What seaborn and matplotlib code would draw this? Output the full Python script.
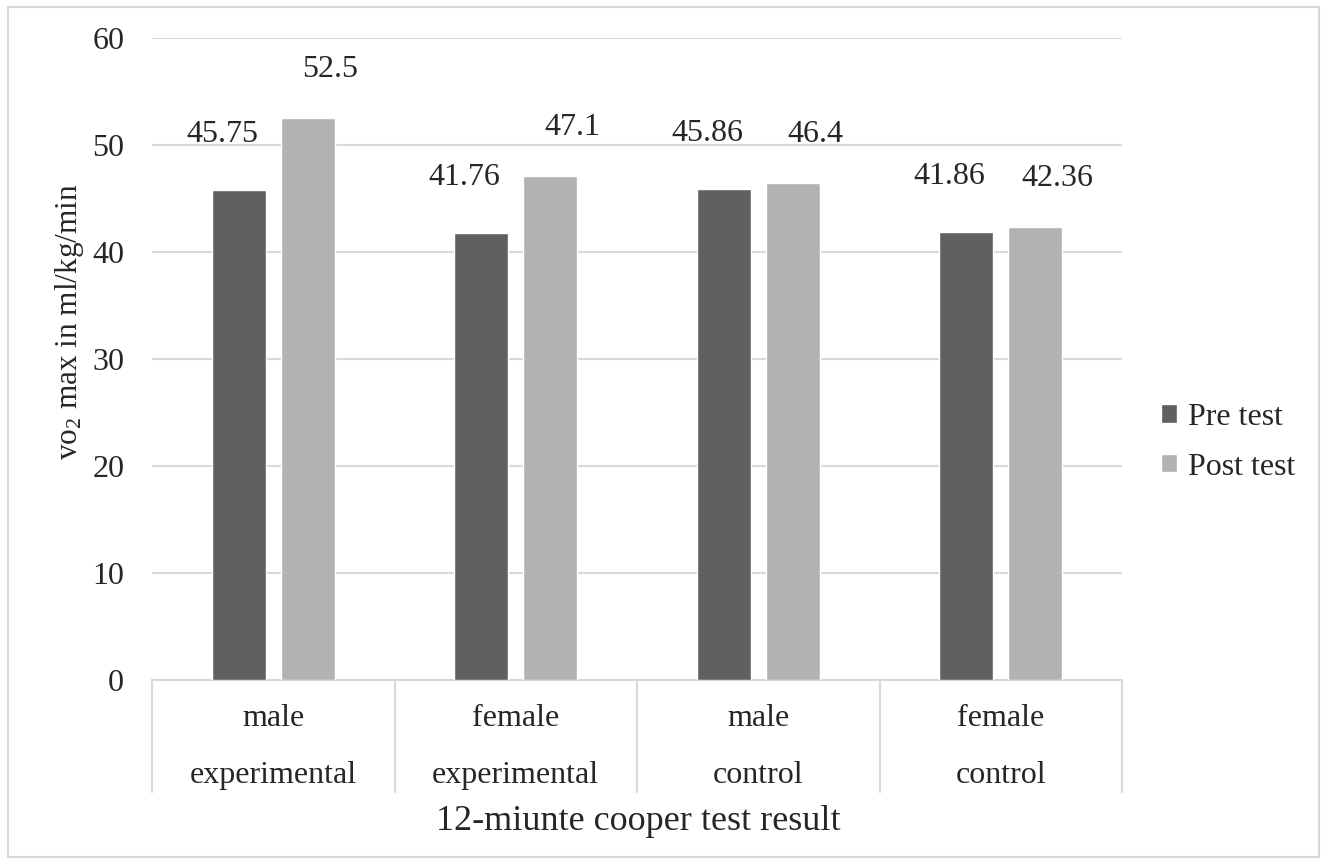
import seaborn as sns
import matplotlib.pyplot as plt
import matplotlib.transforms as mtransforms
from matplotlib.patches import Rectangle
import pandas as pd

# data
groups = ["male\nexperimental", "female\nexperimental", "male\ncontrol", "female\ncontrol"]
tests = ["Pre test", "Post test"]
pre_vals = [45.75, 41.76, 45.86, 41.86]
post_vals = [52.5, 47.1, 46.4, 42.36]
pre_labels = ["45.75", "41.76", "45.86", "41.86"]
post_labels = ["52.5", "47.1", "46.4", "42.36"]

df = pd.DataFrame({
    "group": groups * 2,
    "test": [tests[0]] * 4 + [tests[1]] * 4,
    "value": pre_vals + post_vals,
})

sns.set_style("white")
plt.rcParams["font.family"] = ["Liberation Serif", "DejaVu Serif"]
plt.rcParams["mathtext.fontset"] = "custom"
plt.rcParams["mathtext.rm"] = "Liberation Serif"
plt.rcParams["mathtext.it"] = "Liberation Serif:italic"

FS = 23

fig = plt.figure(figsize=(13.23, 8.67), dpi=100)
ax = fig.add_axes([0.1149, 0.2157, 0.7332, 0.7405])

colors = {"Pre test": "#606060", "Post test": "#b2b2b2"}
sns.barplot(data=df, x="group", y="value", hue="test", hue_order=tests,
            palette=colors, width=0.57, gap=0.215, saturation=1,
            ax=ax, legend=True, zorder=3)

ax.set_ylim(0, 60)
ax.set_xlim(-0.5, 3.5)
ax.set_yticks(range(0, 61, 10))
ax.yaxis.grid(True, color="#d9d9d9", linewidth=1.5, zorder=0)
ax.set_axisbelow(True)
for s in ["left", "right", "top"]:
    ax.spines[s].set_visible(False)
ax.spines["bottom"].set_color("#d9d9d9")
ax.spines["bottom"].set_linewidth(1.5)
ax.tick_params(axis="y", length=0, pad=20, labelsize=FS)
ax.tick_params(axis="x", length=0, labelbottom=False)

trans = mtransforms.blended_transform_factory(ax.transData, ax.transAxes)

# two-line category labels
for i, g in enumerate(groups):
    top, bottom = g.split("\n")
    ax.text(i, -0.0595, top, transform=trans, ha="center", va="center", fontsize=FS)
    ax.text(i, -0.148, bottom, transform=trans, ha="center", va="center", fontsize=FS)

# category separators below the axis
for xb in [-0.5, 0.5, 1.5, 2.5, 3.5]:
    ax.plot([xb, xb], [0, -0.174], transform=trans, color="#d9d9d9",
            linewidth=1.5, clip_on=False)

# value labels
for i in range(4):
    ax.annotate(pre_labels[i], (i - 0.1425, pre_vals[i]), xytext=(-12, 40),
                textcoords="offset points", ha="center", va="center", fontsize=FS)
    ax.annotate(post_labels[i], (i + 0.1425, post_vals[i]), xytext=(16, 35),
                textcoords="offset points", ha="center", va="center", fontsize=FS)

ax.set_xlabel("")
ax.set_ylabel("")
fig.text(0.4822, 1 - 822 / 867, "12-miunte cooper test result", ha="center",
         va="center", fontsize=26)
fig.text(0.0525, 1 - 322 / 867, "vo$_2$ max in ml/kg/min", rotation=90,
         ha="center", va="center", fontsize=22.5)

leg = ax.legend(loc="center left", bbox_to_anchor=(0.856, 0.49),
                bbox_transform=fig.transFigure, frameon=False, fontsize=FS,
                handlelength=0.5, handleheight=0.5, handletextpad=0.35,
                labelspacing=0.65)

fig.patches.append(Rectangle((0.006, 0.011), 0.991, 0.981, transform=fig.transFigure,
                             fill=False, edgecolor="#d9d9d9", linewidth=1.5))

fig.savefig("out.png", dpi=100)
